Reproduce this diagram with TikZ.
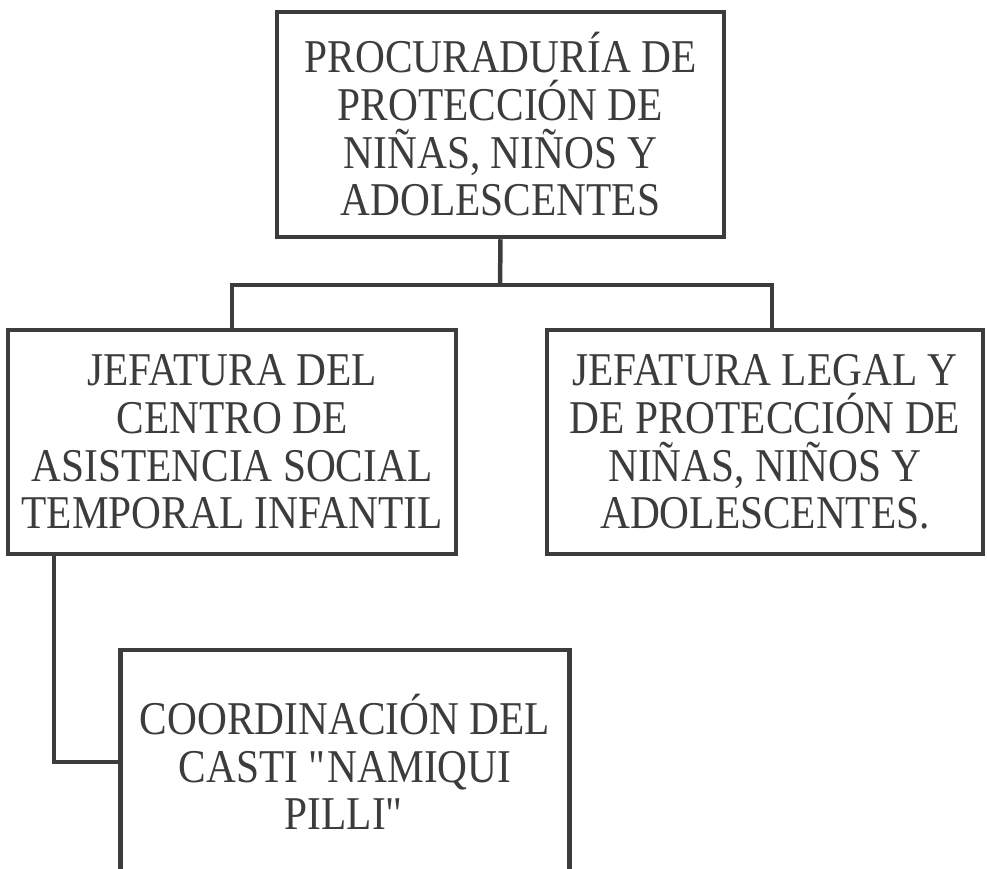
\documentclass[tikz,border=0pt]{standalone}
\usepackage{fontspec}
\setmainfont{Liberation Serif}[FakeStretch=0.88]
\usepackage{tikz}
\usetikzlibrary{positioning}

\definecolor{inkgray}{HTML}{3A3C3D}

\begin{document}
\begin{tikzpicture}[x=1pt, y=-1pt, line width=4.5pt, draw=inkgray,
    unitbox/.style={draw=inkgray, rectangle, inner sep=0pt, align=center,
        text=inkgray, font=\fontsize{47}{47.7}\selectfont}]
        \useasboundingbox (0,0) rectangle (987,869);

        % Boxes
        \node[unitbox, minimum width=447, minimum height=225] (procu) at (500.5,124.5)
            {PROCURADURÍA DE\\PROTECCIÓN DE\\NIÑAS, NIÑOS Y\\ADOLESCENTES};
        \node[unitbox, minimum width=448, minimum height=224] (centro) at (232,442)
            {JEFATURA DEL\\CENTRO DE\\ASISTENCIA SOCIAL\\TEMPORAL INFANTIL};
        \node[unitbox, minimum width=436, minimum height=224] (legal) at (765,442)
            {JEFATURA LEGAL Y\\DE PROTECCIÓN DE\\NIÑAS, NIÑOS Y\\ADOLESCENTES.};
        \node[unitbox, minimum width=449, minimum height=224] (casti) at (345,762)
            {COORDINACIÓN DEL\\CASTI \textquotedbl NAMIQUI\\PILLI\textquotedbl};

        % Connectors
        \coordinate (bus) at (500,285);
        \draw[inkgray] (procu.south) -- (bus);
        \draw[inkgray] (centro.north) |- (bus) -| ([xshift=7pt]legal.north);
        \draw[inkgray] ([xshift=48pt]centro.south west) |- (casti.west);
    \end{tikzpicture}
\end{document}
